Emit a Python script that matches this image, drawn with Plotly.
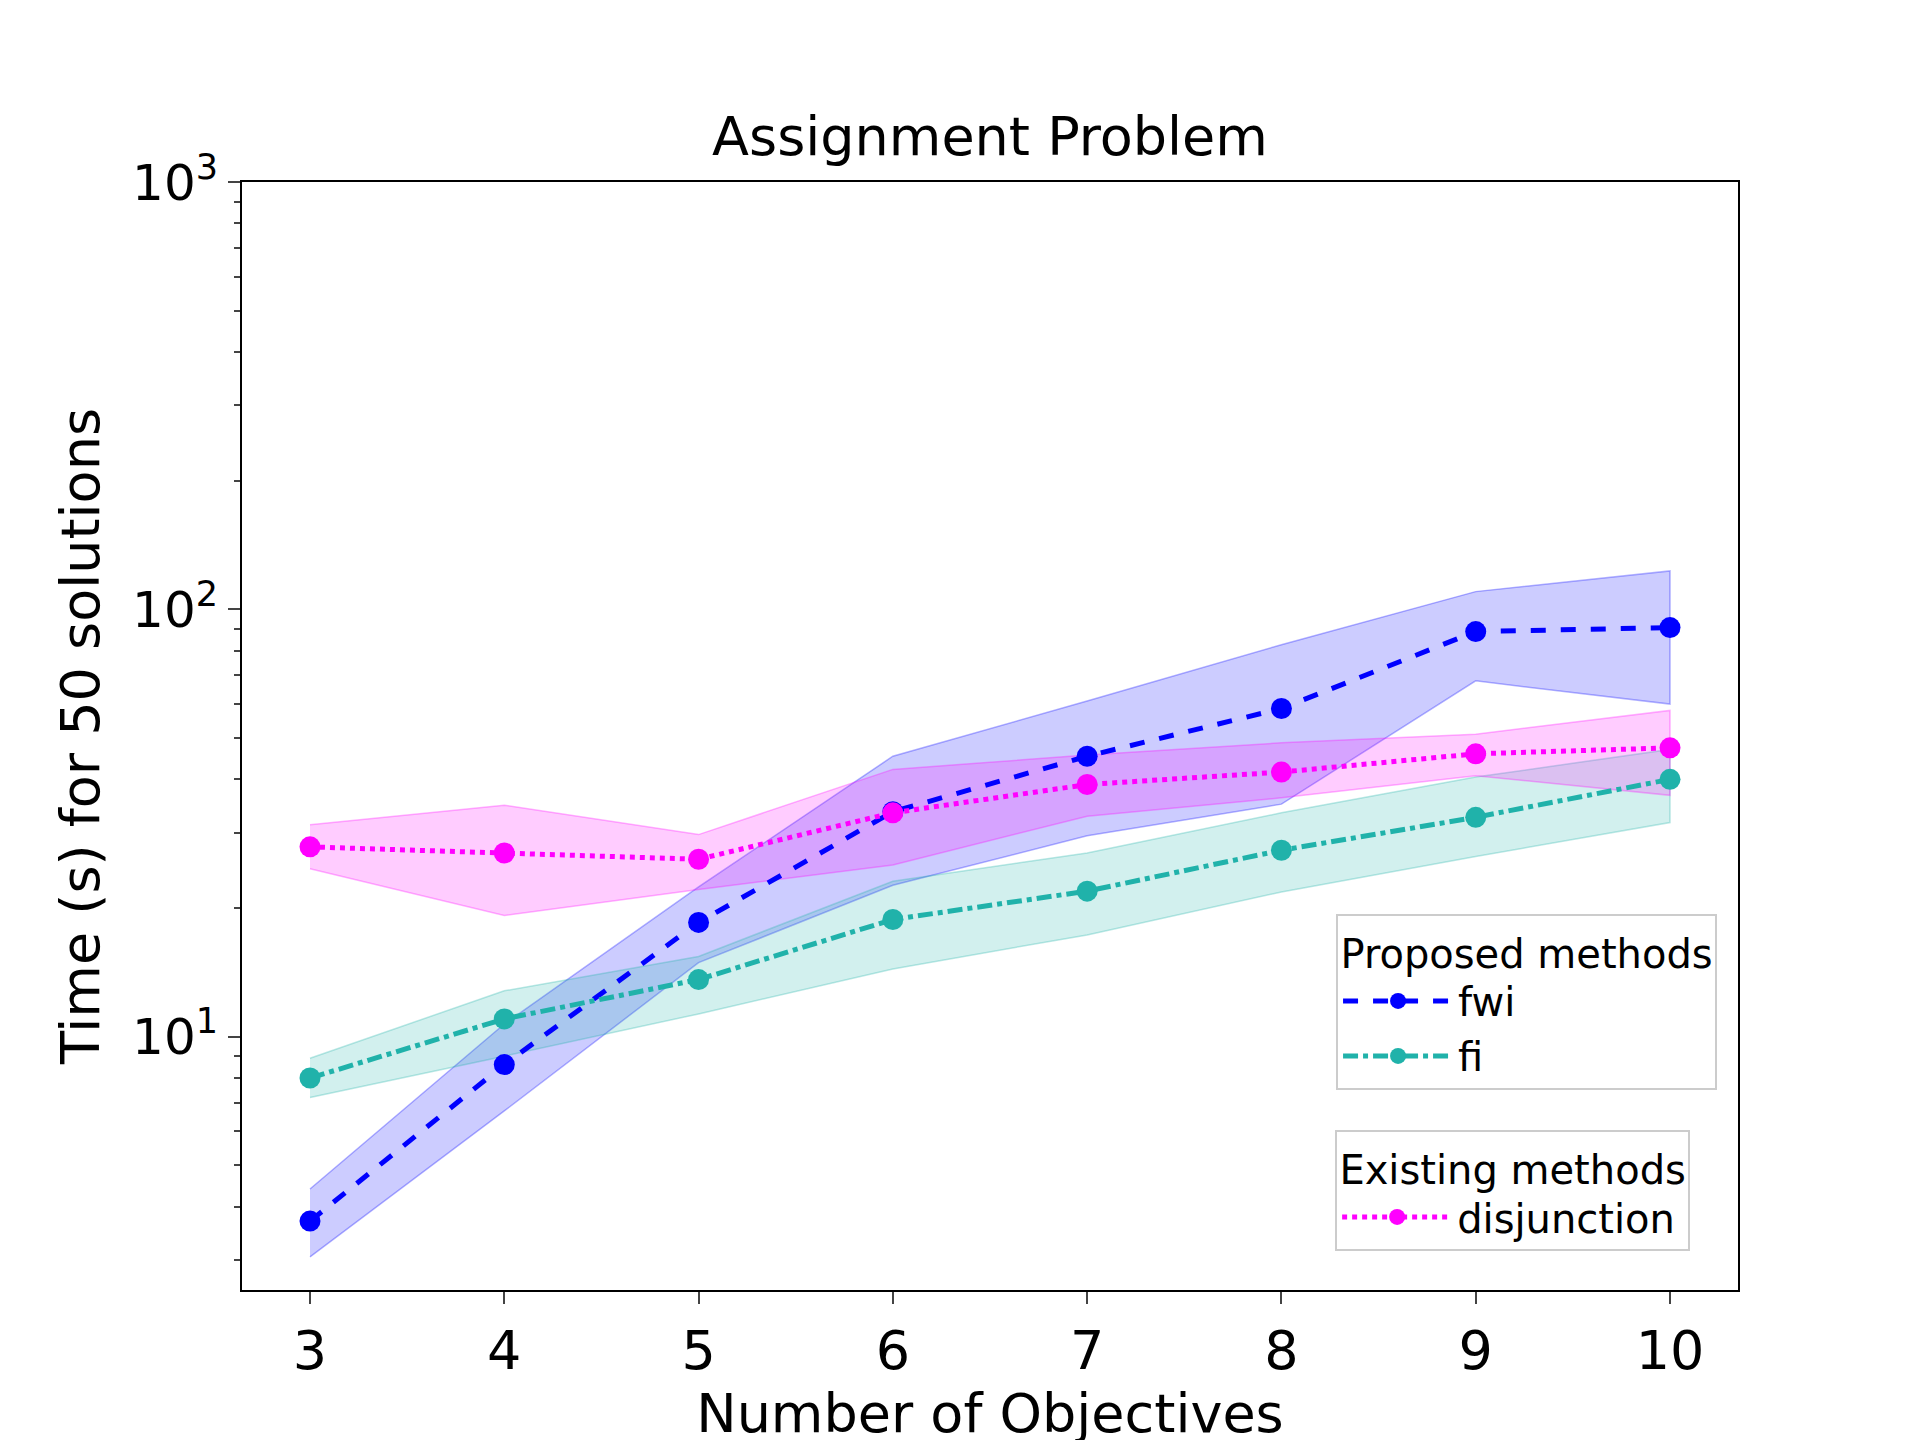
import plotly.graph_objects as go

x = [3, 4, 5, 6, 7, 8, 9, 10]
fwi = [3.7, 8.6, 18.5, 33.6, 45.3, 58.6, 88.7, 90.6]
fwi_hi = [4.4, 10.7, 22.4, 45.3, 61, 82.6, 110, 123]
fwi_lo = [3.05, 6.7, 14.9, 22.6, 29.5, 35, 68, 60]
fi = [8.0, 11, 13.6, 18.8, 21.9, 27.3, 32.6, 40]
fi_hi = [8.9, 12.8, 15.4, 23.1, 26.9, 33.4, 40.5, 47]
fi_lo = [7.2, 9.0, 11.3, 14.4, 17.3, 21.8, 26.4, 31.7]
dis = [27.8, 26.9, 26.0, 33.4, 38.9, 41.6, 45.9, 47.4]
dis_hi = [31.3, 34.8, 29.7, 42.2, 45.6, 48.7, 51, 58]
dis_lo = [24.7, 19.2, 22.1, 25.2, 32.8, 36.2, 40.8, 36.7]
minor_vals = [3, 4, 5, 6, 7, 8, 9, 20, 30, 40, 50, 60, 70, 80, 90,
              200, 300, 400, 500, 600, 700, 800, 900]

fig = go.Figure()

def band(lo, hi, rgb):
    fig.add_trace(go.Scatter(x=x + x[::-1], y=hi + lo[::-1], fill="toself",
                             fillcolor=f"rgba({rgb},0.2)", mode="lines",
                             line=dict(color=f"rgba({rgb},0.3)", width=1.5),
                             showlegend=False, hoverinfo="skip"))

band(fwi_lo, fwi_hi, "0,0,255")
band(fi_lo, fi_hi, "32,178,170")
band(dis_lo, dis_hi, "255,0,255")

fig.add_trace(go.Scatter(x=x, y=fwi, name="fwi", mode="lines+markers",
                         line=dict(color="#0000ff", width=5, dash="dash"),
                         marker=dict(size=21), legend="legend"))
fig.add_trace(go.Scatter(x=x, y=fi, name="fi", mode="lines+markers",
                         line=dict(color="#20b2aa", width=5, dash="dashdot"),
                         marker=dict(size=21), legend="legend"))
fig.add_trace(go.Scatter(x=x, y=dis, name="disjunction", mode="lines+markers",
                         line=dict(color="#ff00ff", width=5, dash="dot"),
                         marker=dict(size=21), legend="legend2"))

font = dict(family="DejaVu Sans", color="black")
leg = dict(bgcolor="rgba(255,255,255,0.8)", bordercolor="#cccccc", borderwidth=2,
           font=dict(family="DejaVu Sans", size=40, color="black"),
           xanchor="right", yanchor="top", itemwidth=110, tracegroupgap=20)
fig.update_layout(
    width=1920, height=1440, plot_bgcolor="white", paper_bgcolor="white",
    margin=dict(l=234, r=190, t=174, b=158),
    font=font,
    title=dict(text="Assignment Problem", x=0.5, xref="paper", y=1 - 128/1440,
               yanchor="middle", font=dict(size=54)),
    legend=dict(leg, x=0.986, y=0.339, title=dict(text="Proposed methods", side="top center", font=dict(size=40))),
    legend2=dict(leg, x=0.968, y=0.144, title=dict(text="Existing methods", side="top center", font=dict(size=40))),
)
fig.update_xaxes(range=[2.65, 10.35], tickvals=x, ticks="outside", ticklen=12, tickwidth=2,
                 showline=True, linecolor="black", linewidth=2, mirror=True, showgrid=False,
                 tickfont=dict(size=54), title=dict(text="Number of Objectives", font=dict(size=54), standoff=10))
fig.update_yaxes(type="log", range=[0.407, 3], tickvals=[10, 100, 1000],
                 ticktext=["10<sup>1</sup>", "10<sup>2</sup>", "10<sup>3</sup>"],
                 ticks="outside", ticklen=12, tickwidth=2,
                 minor=dict(tickvals=minor_vals, ticks="outside", ticklen=6, tickwidth=1.5, showgrid=False),
                 showline=True, linecolor="black", linewidth=2, mirror=True, showgrid=False,
                 tickfont=dict(size=50), title=dict(text="Time (s) for 50 solutions", font=dict(size=54), standoff=15))
fig.write_html("out.html")
